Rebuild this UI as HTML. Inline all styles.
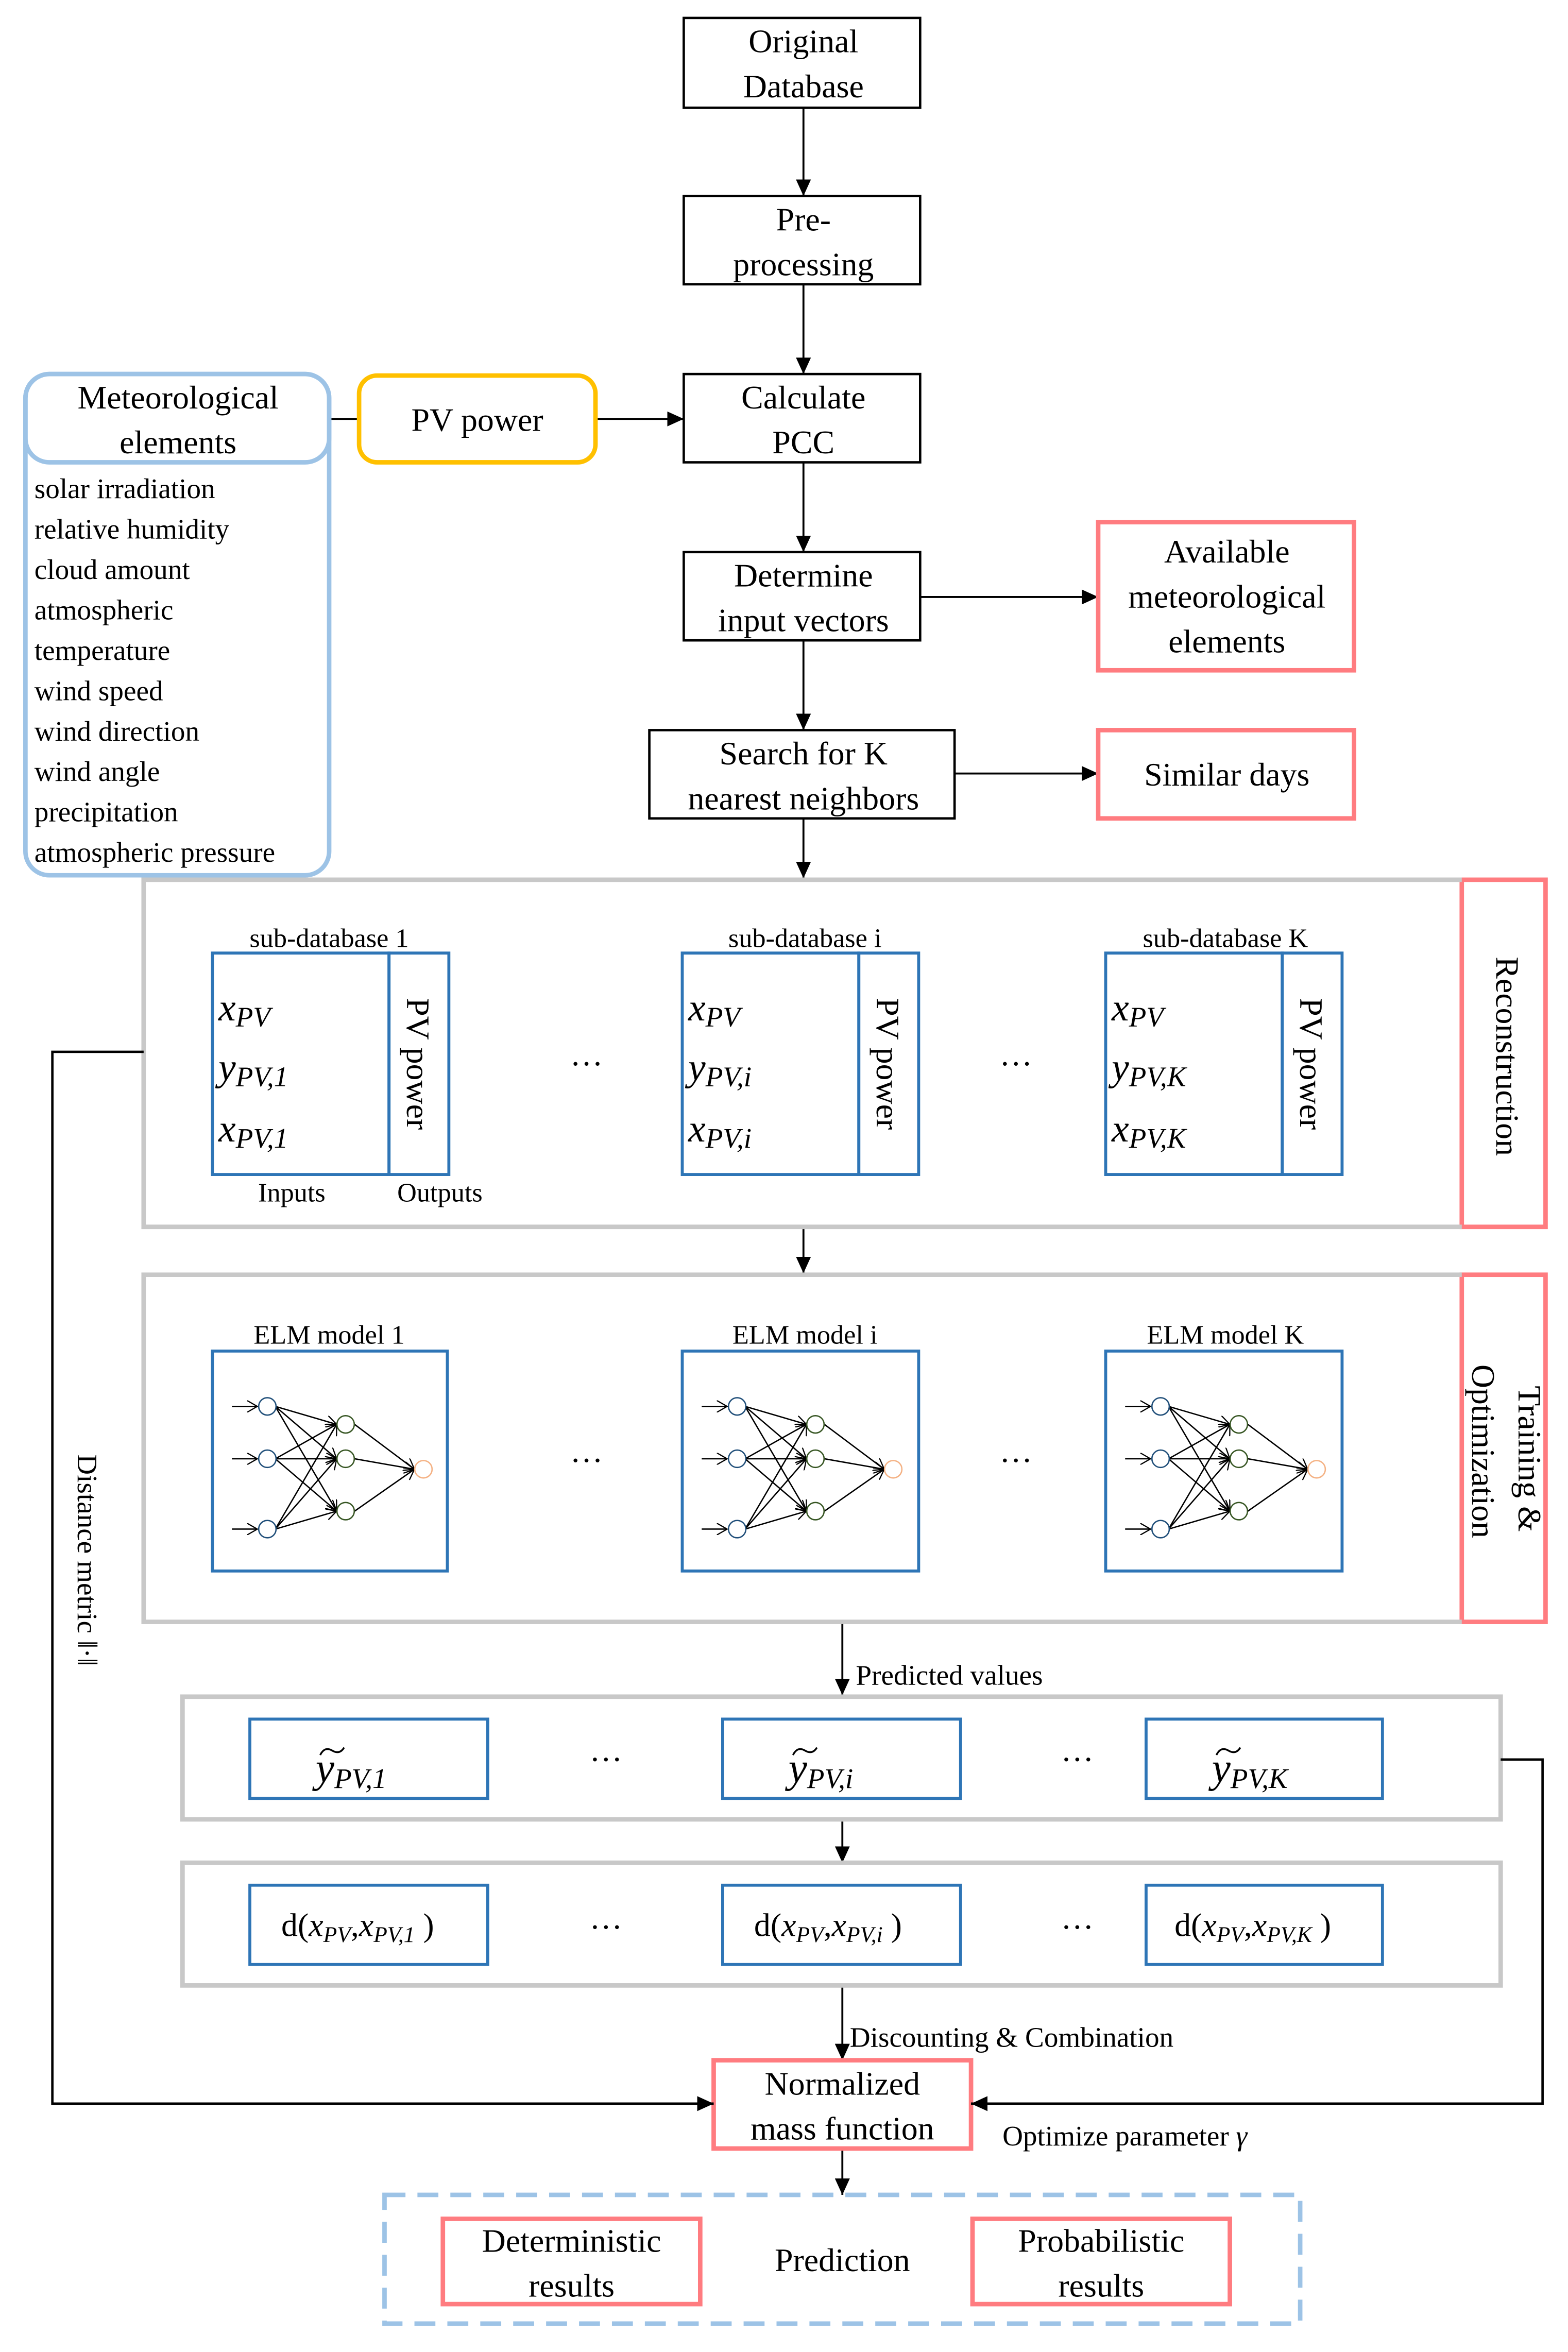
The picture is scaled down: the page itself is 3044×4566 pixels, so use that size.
<!DOCTYPE html>
<html><head><meta charset="utf-8"><style>
html,body{margin:0;padding:0;background:#fff}
svg{display:block}
text{font-family:"Liberation Serif",serif;fill:#000}
.i{font-style:italic}
</style></head><body>
<svg width="3044" height="4566" viewBox="0 0 1048 1572" xmlns="http://www.w3.org/2000/svg">
<defs>
<marker id="a" markerWidth="12" markerHeight="10" refX="11" refY="5" orient="auto" markerUnits="userSpaceOnUse"><path d="M0,0 L11,5 L0,10 z" fill="#000"/></marker>
<marker id="s" markerWidth="8" markerHeight="8" refX="7" refY="4" orient="auto" markerUnits="userSpaceOnUse"><path d="M0,0 L7,4 L0,8" fill="none" stroke="#000" stroke-width="0.8"/></marker>
<g id="net" stroke="#000" stroke-width="0.9" fill="none">
<line x1="155" y1="940" x2="172" y2="940" marker-end="url(#s)"/>
<line x1="155" y1="975" x2="172" y2="975" marker-end="url(#s)"/>
<line x1="155" y1="1022" x2="172" y2="1022" marker-end="url(#s)"/>
<g marker-end="url(#s)">
<line x1="184" y1="940" x2="225" y2="952"/><line x1="184" y1="940" x2="225" y2="975"/><line x1="184" y1="940" x2="225" y2="1010"/>
<line x1="184" y1="975" x2="225" y2="952"/><line x1="184" y1="975" x2="225" y2="975"/><line x1="184" y1="975" x2="225" y2="1010"/>
<line x1="184" y1="1022" x2="225" y2="952"/><line x1="184" y1="1022" x2="225" y2="975"/><line x1="184" y1="1022" x2="225" y2="1010"/>
<line x1="237" y1="952" x2="277" y2="982"/><line x1="237" y1="975" x2="277" y2="982"/><line x1="237" y1="1010" x2="277" y2="982"/>
</g>
<circle cx="178.7" cy="940" r="5.8" stroke="#1F4E79" fill="#fff"/>
<circle cx="178.7" cy="975" r="5.8" stroke="#1F4E79" fill="#fff"/>
<circle cx="178.7" cy="1022" r="5.8" stroke="#1F4E79" fill="#fff"/>
<circle cx="231" cy="952" r="5.8" stroke="#375623" fill="#fff"/>
<circle cx="231" cy="975" r="5.8" stroke="#375623" fill="#fff"/>
<circle cx="231" cy="1010" r="5.8" stroke="#375623" fill="#fff"/>
<circle cx="283" cy="982" r="5.8" stroke="#F4B183" fill="#fff"/>
</g>
</defs>

<g fill="none" stroke="#000" stroke-width="1.6">
<rect x="457" y="12" width="158" height="60"/>
<rect x="457" y="131" width="158" height="59"/>
<rect x="457" y="250" width="158" height="59"/>
<rect x="457" y="369" width="158" height="59"/>
<rect x="434" y="488" width="204" height="59"/>
</g>
<g font-size="22" text-anchor="middle">
<text x="537" y="35">Original</text><text x="537" y="65">Database</text>
<text x="537" y="154">Pre-</text><text x="537" y="184">processing</text>
<text x="537" y="273">Calculate</text><text x="537" y="303">PCC</text>
<text x="537" y="392">Determine</text><text x="537" y="422">input vectors</text>
<text x="537" y="511">Search for K</text><text x="537" y="541">nearest neighbors</text>
</g>
<g stroke="#000" stroke-width="1.3" marker-end="url(#a)">
<line x1="537" y1="72" x2="537" y2="131"/>
<line x1="537" y1="190" x2="537" y2="250"/>
<line x1="537" y1="309" x2="537" y2="369"/>
<line x1="537" y1="428" x2="537" y2="488"/>
<line x1="537" y1="547" x2="537" y2="587"/>
<line x1="398" y1="280" x2="457" y2="280"/>
<line x1="615" y1="399" x2="734" y2="399"/>
<line x1="638" y1="517" x2="734" y2="517"/>
<line x1="537" y1="821" x2="537" y2="851"/>
<line x1="563" y1="1085" x2="563" y2="1133"/>
<line x1="563" y1="1217" x2="563" y2="1245"/>
<line x1="563" y1="1328" x2="563" y2="1377"/>
<line x1="563" y1="1436" x2="563" y2="1467"/>
</g>
<line x1="220" y1="280" x2="240" y2="280" stroke="#000" stroke-width="1.3"/>

<rect x="17" y="250" width="203" height="335" rx="16" fill="none" stroke="#9DC3E6" stroke-width="3"/>
<rect x="17" y="250" width="203" height="59" rx="16" fill="none" stroke="#9DC3E6" stroke-width="3"/>
<g font-size="22" text-anchor="middle"><text x="119" y="273">Meteorological</text><text x="119" y="303">elements</text></g>
<g font-size="19">
<text x="23" y="333">solar irradiation</text>
<text x="23" y="360">relative humidity</text>
<text x="23" y="387">cloud amount</text>
<text x="23" y="414">atmospheric</text>
<text x="23" y="441">temperature</text>
<text x="23" y="468">wind speed</text>
<text x="23" y="495">wind direction</text>
<text x="23" y="522">wind angle</text>
<text x="23" y="549">precipitation</text>
<text x="23" y="576">atmospheric pressure</text>
</g>
<rect x="240" y="251" width="158" height="58" rx="12" fill="none" stroke="#FFC000" stroke-width="3"/>
<text x="319" y="288" font-size="22" text-anchor="middle">PV power</text>

<g fill="none" stroke="#FF7C80" stroke-width="3">
<rect x="734" y="349" width="171" height="99"/>
<rect x="734" y="488" width="171" height="59"/>
<rect x="977" y="588" width="56" height="232"/>
<rect x="977" y="852" width="56" height="232"/>
<rect x="477" y="1377" width="172" height="59"/>
<rect x="296" y="1483" width="172" height="57"/>
<rect x="650" y="1483" width="172" height="57"/>
</g>
<g font-size="22" text-anchor="middle">
<text x="820" y="376">Available</text><text x="820" y="406">meteorological</text><text x="820" y="436">elements</text>
<text x="820" y="525">Similar days</text>
<text x="563" y="1400">Normalized</text><text x="563" y="1430">mass function</text>
<text x="382" y="1505">Deterministic</text><text x="382" y="1535">results</text>
<text x="736" y="1505">Probabilistic</text><text x="736" y="1535">results</text>
<text x="563" y="1518">Prediction</text>
</g>
<text transform="translate(1000,706) rotate(90)" font-size="22" text-anchor="middle">Reconstruction</text>
<text transform="translate(1015,975) rotate(90)" font-size="22" text-anchor="middle">Training &amp;</text>
<text transform="translate(984,970) rotate(90)" font-size="22" text-anchor="middle">Optimization</text>

<g fill="none" stroke="#C8C8C8" stroke-width="3">
<path d="M977,588 H96 V820 H977"/>
<path d="M977,852 H96 V1084 H977"/>
<rect x="122" y="1134" width="881" height="82"/>
<rect x="122" y="1245" width="881" height="82"/>
</g>

<g id="sdb">
<g fill="none" stroke="#2E75B6" stroke-width="2">
<rect x="142" y="637" width="118" height="148"/>
<rect x="260" y="637" width="40" height="148"/>
</g>
<text transform="translate(272,711) rotate(90)" font-size="22" text-anchor="middle">PV power</text>
</g>
<use href="#sdb" x="314"/>
<use href="#sdb" x="597"/>
<g font-size="18" text-anchor="middle">
<text x="220" y="633">sub-database 1</text>
<text x="538" y="633">sub-database i</text>
<text x="819" y="633">sub-database K</text>
<text x="195" y="803">Inputs</text>
<text x="294" y="803">Outputs</text>
</g>
<g class="i">
<text x="146" y="682" font-size="26">x<tspan font-size="19" dy="4">PV</tspan></text>
<text x="146" y="722" font-size="26">y<tspan font-size="19" dy="4">PV,1</tspan></text>
<text x="146" y="763" font-size="26">x<tspan font-size="19" dy="4">PV,1</tspan></text>
<text x="460" y="682" font-size="26">x<tspan font-size="19" dy="4">PV</tspan></text>
<text x="460" y="722" font-size="26">y<tspan font-size="19" dy="4">PV,i</tspan></text>
<text x="460" y="763" font-size="26">x<tspan font-size="19" dy="4">PV,i</tspan></text>
<text x="743" y="682" font-size="26">x<tspan font-size="19" dy="4">PV</tspan></text>
<text x="743" y="722" font-size="26">y<tspan font-size="19" dy="4">PV,K</tspan></text>
<text x="743" y="763" font-size="26">x<tspan font-size="19" dy="4">PV,K</tspan></text>
</g>
<g font-size="22" text-anchor="middle">
<text x="392" y="712">…</text><text x="679" y="712">…</text>
<text x="392" y="977">…</text><text x="679" y="977">…</text>
<text x="405" y="1177">…</text><text x="720" y="1177">…</text>
<text x="405" y="1289">…</text><text x="720" y="1289">…</text>
</g>

<g fill="none" stroke="#2E75B6" stroke-width="2">
<rect x="142" y="903" width="157" height="147"/>
<rect x="456" y="903" width="158" height="147"/>
<rect x="739" y="903" width="158" height="147"/>
</g>
<use href="#net"/>
<use href="#net" x="314"/>
<use href="#net" x="597"/>
<g font-size="18" text-anchor="middle">
<text x="220" y="898">ELM model 1</text>
<text x="538" y="898">ELM model i</text>
<text x="819" y="898">ELM model K</text>
</g>

<g fill="none" stroke="#2E75B6" stroke-width="2">
<rect x="167" y="1149" width="159" height="53"/>
<rect x="483" y="1149" width="159" height="53"/>
<rect x="766" y="1149" width="158" height="53"/>
<rect x="167" y="1260" width="159" height="53"/>
<rect x="483" y="1260" width="159" height="53"/>
<rect x="766" y="1260" width="158" height="53"/>
</g>
<g class="i" font-size="28">
<text x="211" y="1191">y<tspan font-size="19" dy="4">PV,1</tspan></text>
<text x="527" y="1191">y<tspan font-size="19" dy="4">PV,i</tspan></text>
<text x="810" y="1191">y<tspan font-size="19" dy="4">PV,K</tspan></text>
</g>
<g fill="none" stroke="#000" stroke-width="1.2">
<path d="M214,1173 q3,-6 8,-3 t8,-2"/>
<path d="M530,1173 q3,-6 8,-3 t8,-2"/>
<path d="M813,1173 q3,-6 8,-3 t8,-2"/>
</g>
<g font-size="22">
<text x="188" y="1294">d(<tspan class="i">x</tspan><tspan class="i" font-size="15" dy="4">PV</tspan><tspan dy="-4">,</tspan><tspan class="i">x</tspan><tspan class="i" font-size="15" dy="4">PV,1</tspan><tspan dy="-4"> )</tspan></text>
<text x="504" y="1294">d(<tspan class="i">x</tspan><tspan class="i" font-size="15" dy="4">PV</tspan><tspan dy="-4">,</tspan><tspan class="i">x</tspan><tspan class="i" font-size="15" dy="4">PV,i</tspan><tspan dy="-4"> )</tspan></text>
<text x="785" y="1294">d(<tspan class="i">x</tspan><tspan class="i" font-size="15" dy="4">PV</tspan><tspan dy="-4">,</tspan><tspan class="i">x</tspan><tspan class="i" font-size="15" dy="4">PV,K</tspan><tspan dy="-4"> )</tspan></text>
</g>

<polyline points="96,703 35,703 35,1406 477,1406" fill="none" stroke="#000" stroke-width="1.6" marker-end="url(#a)"/>
<polyline points="1003,1176 1031,1176 1031,1406 649,1406" fill="none" stroke="#000" stroke-width="1.6" marker-end="url(#a)"/>
<text transform="translate(52,972) rotate(90)" font-size="19">Distance metric ‖·‖</text>

<g font-size="19">
<text x="572" y="1126">Predicted values</text>
<text x="568" y="1368">Discounting &amp; Combination</text>
<text x="670" y="1434">Optimize parameter <tspan class="i">γ</tspan></text>
</g>

<rect x="257" y="1467" width="612" height="86" fill="none" stroke="#9DC3E6" stroke-width="3" stroke-dasharray="14,8"/>
</svg>
</body></html>
